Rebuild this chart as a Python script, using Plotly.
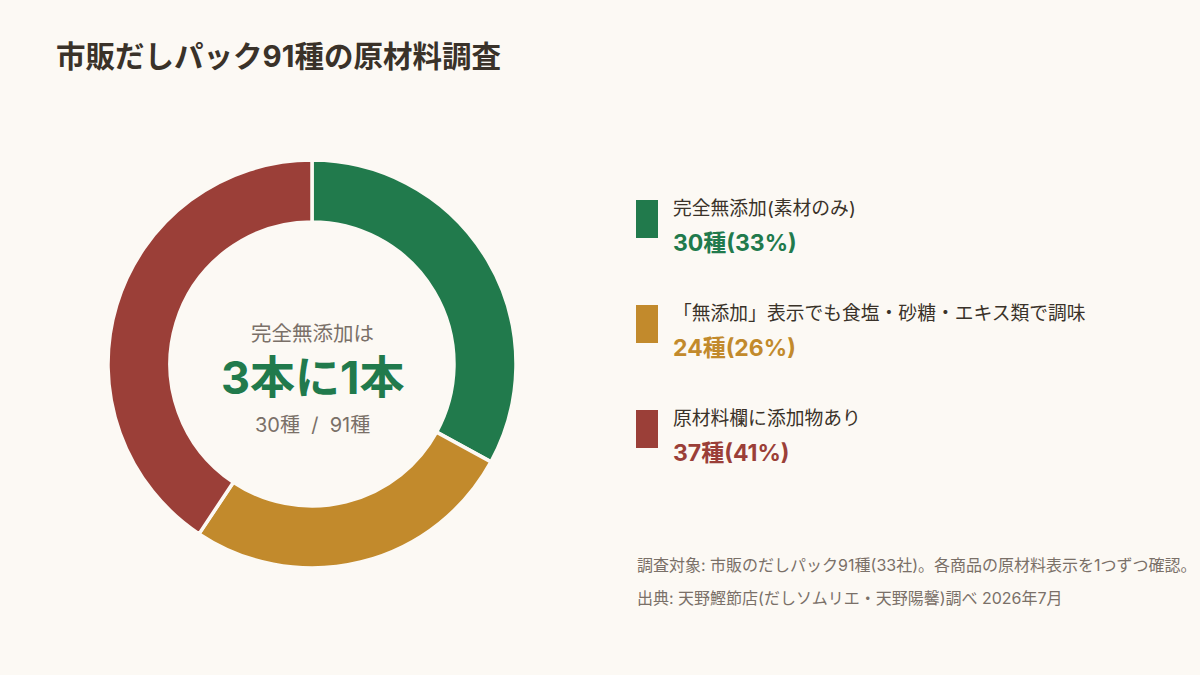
import plotly.graph_objects as go

# ---- data ----
categories = ["完全無添加(素材のみ)", "「無添加」表示でも食塩・砂糖・エキス類で調味", "原材料欄に添加物あり"]
counts = [30, 24, 37]
colors = ["#217a4c", "#c28a2c", "#9b3f38"]
total = 91
title_text = "市販だしパック91種の原材料調査"
center_top = "完全無添加は"
center_main = "3本に1本"
notes = ["調査対象: 市販のだしパック91種(33社)。各商品の原材料表示を1つずつ確認。",
         "出典: 天野鰹節店(だしソムリエ・天野陽馨)調べ 2026年7月"]

W, H = 1200, 675
BG = "#fcf9f4"
TXT = "#3a3229"
GRAY = "#7a7068"
FONT = "Inter, Noto Sans CJK JP"

fig = go.Figure()
fig.add_trace(go.Pie(
    values=counts, labels=categories, sort=False, direction="clockwise", rotation=0,
    hole=0.696, marker=dict(colors=colors, line=dict(color=BG, width=3.5)),
    textinfo="none", hoverinfo="label+value+percent", showlegend=False,
    domain=dict(x=[108 / W, 516 / W], y=[1 - 568 / H, 1 - 160 / H]),
))

ann = []
def add_text(x, y, text, size, color, bold=False, xanchor="left"):
    ann.append(dict(x=x / W, y=1 - y / H, xref="paper", yref="paper", text=f"<b>{text}</b>" if bold else text,
                    showarrow=False, xanchor=xanchor, yanchor="middle",
                    font=dict(family=FONT, size=size, color=color)))

add_text(54, 56, title_text, 29.5, TXT, bold=True)
add_text(312, 333, center_top, 20.5, GRAY, xanchor="center")
add_text(312, 377, center_main, 45, colors[0], bold=True, xanchor="center")
add_text(312, 425, f"{counts[0]}種&nbsp; /&nbsp; {total}種", 20, GRAY, xanchor="center")

shapes = []
tops = [200, 305, 410]
for i, (cat, n, col) in enumerate(zip(categories, counts, colors)):
    t = tops[i]
    shapes.append(dict(type="rect", xref="paper", yref="paper", x0=636 / W, x1=658 / W,
                       y0=1 - (t + 38) / H, y1=1 - t / H, fillcolor=col, line=dict(width=0)))
    add_text(671, t + 8, cat, 18.8, TXT)
    pct = round(n / total * 100)
    add_text(671, t + 43, f"{n}種({pct}%)", 23, col, bold=True)

add_text(635, 565, notes[0], 16, GRAY)
add_text(635, 598, notes[1], 16, GRAY)

fig.update_layout(width=W, height=H, paper_bgcolor=BG, plot_bgcolor=BG,
                  margin=dict(l=0, r=0, t=0, b=0), annotations=ann, shapes=shapes,
                  font=dict(family=FONT))
fig.write_html("out.html", config={"displayModeBar": False},
               post_script="document.body.style.margin='0';document.body.style.background='" + BG + "';")
